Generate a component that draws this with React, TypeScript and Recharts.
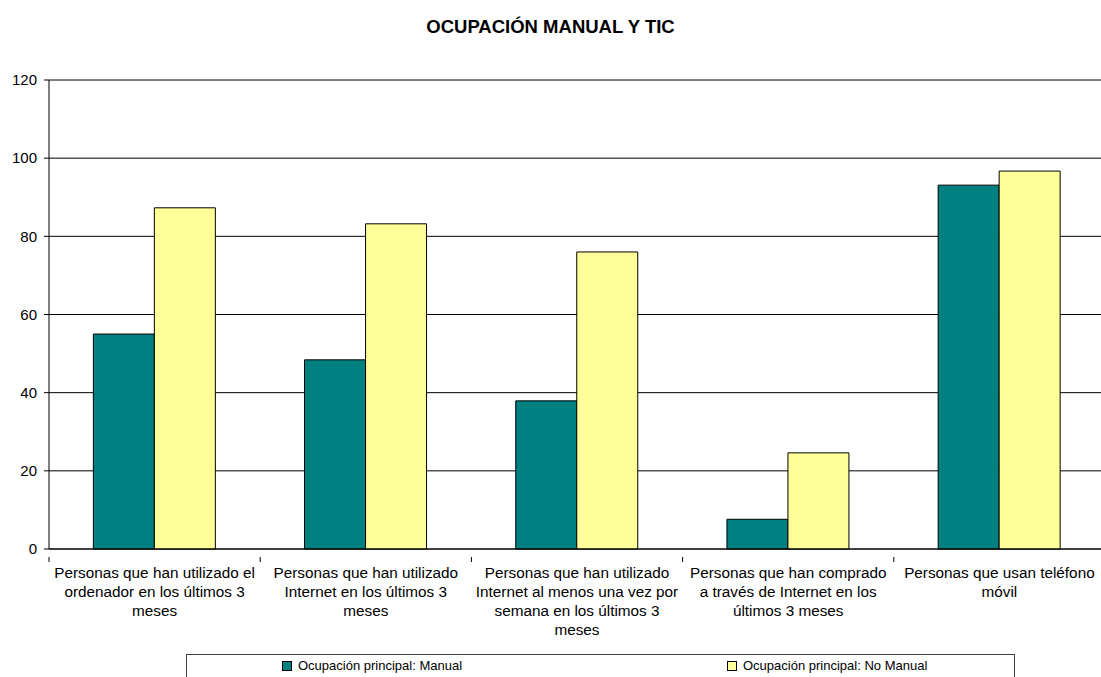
import { BarChart, Bar, XAxis, YAxis, CartesianGrid } from "recharts";

const categories = [
  "Personas que han utilizado el\nordenador en los últimos 3\nmeses",
  "Personas que han utilizado\nInternet en los últimos 3\nmeses",
  "Personas que han utilizado\nInternet al menos una vez por\nsemana en los últimos 3\nmeses",
  "Personas que han comprado\na través de Internet en los\núltimos 3 meses",
  "Personas que usan teléfono\nmóvil",
];
const manual = [55.0, 48.4, 37.9, 7.6, 93.1];
const noManual = [87.3, 83.2, 76.0, 24.6, 96.7];
const yTicks = [0, 20, 40, 60, 80, 100, 120];

const TITLE = "OCUPACIÓN MANUAL Y TIC";
const SERIES = [
  { key: "manual", name: "Ocupación principal: Manual", color: "#008080" },
  { key: "noManual", name: "Ocupación principal: No Manual", color: "#FFFF99" },
];

const data = categories.map((c, i) => ({
  cat: c,
  manual: manual[i],
  noManual: noManual[i],
}));

const FONT = "'Liberation Sans', Arial, sans-serif";
const CHART_W = 1105;
const LEFT = 49;
const HALF_BAND = (CHART_W - LEFT) / categories.length / 2;

// multi-line category label + boundary tick marks like Excel
function CatTick(props: any) {
  const { x, y, payload, index } = props;
  const lines = String(payload.value).split("\n");
  return (
    <g>
      <line x1={x - HALF_BAND} x2={x - HALF_BAND} y1={y} y2={y + 5} stroke="#000" />
      {index === categories.length - 1 && (
        <line x1={x + HALF_BAND} x2={x + HALF_BAND} y1={y} y2={y + 5} stroke="#000" />
      )}
      <text x={x} y={y + 21} textAnchor="middle" fontSize={15.3} fill="#000" fontFamily={FONT}>
        {lines.map((l, i) => (
          <tspan key={i} x={x} dy={i === 0 ? 0 : 19}>
            {l}
          </tspan>
        ))}
      </text>
    </g>
  );
}

export default function App() {
  return (
    <div
      style={{
        position: "absolute",
        left: 0,
        top: 0,
        width: 1101,
        height: 677,
        overflow: "hidden",
        background: "#fff",
        fontFamily: FONT,
      }}
    >
      <div
        style={{
          position: "absolute",
          top: 16,
          left: 0,
          width: 1101,
          textAlign: "center",
          fontSize: 18.5,
          fontWeight: "bold",
        }}
      >
        {TITLE}
      </div>

      <BarChart
        width={CHART_W}
        height={677}
        data={data}
        margin={{ top: 80, right: 0, left: 0, bottom: 0 }}
        barCategoryGap="21%"
        barGap={0}
      >
        <CartesianGrid vertical={false} stroke="#000" strokeWidth={1} />
        <YAxis
          width={LEFT}
          domain={[0, 120]}
          ticks={yTicks}
          interval={0}
          axisLine={{ stroke: "#000" }}
          tickLine={{ stroke: "#000" }}
          tickSize={5}
          tickMargin={7}
          tick={{ fontSize: 15, fill: "#000", fontFamily: FONT }}
        />
        <XAxis
          dataKey="cat"
          interval={0}
          axisLine={{ stroke: "#000" }}
          tickLine={false}
          height={128}
          tick={<CatTick />}
        />
        {SERIES.map((s) => (
          <Bar
            key={s.key}
            dataKey={s.key}
            name={s.name}
            fill={s.color}
            stroke="#000"
            strokeWidth={1}
            isAnimationActive={false}
          />
        ))}
      </BarChart>

      <div
        style={{
          position: "absolute",
          left: 186,
          top: 654,
          width: 829,
          height: 40,
          border: "1px solid #404040",
          boxSizing: "border-box",
          fontSize: 13,
        }}
      >
        {SERIES.map((s, i) => (
          <div
            key={s.key}
            style={{
              position: "absolute",
              left: i === 0 ? 95 : 540,
              top: 3,
              display: "flex",
              alignItems: "center",
              whiteSpace: "nowrap",
            }}
          >
            <span
              style={{
                display: "inline-block",
                width: 8,
                height: 8,
                background: s.color,
                border: "1px solid #000",
                marginRight: 6,
              }}
            />
            {s.name}
          </div>
        ))}
      </div>
    </div>
  );
}
